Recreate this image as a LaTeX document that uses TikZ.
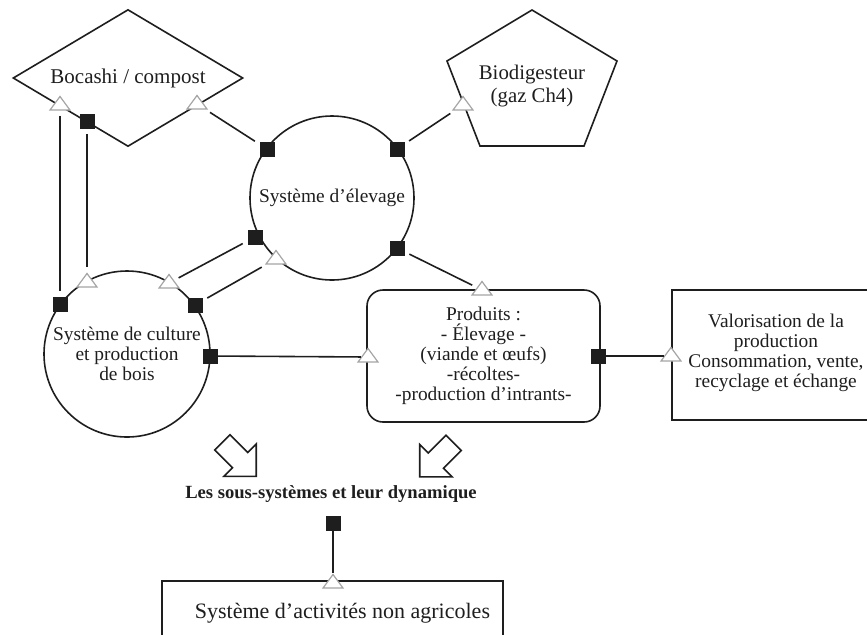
\documentclass[tikz,border=0pt]{standalone}
\usepackage{fontspec}
\setmainfont{Liberation Serif}
\usetikzlibrary{positioning,shapes.geometric,shapes.arrows}
\definecolor{ink}{RGB}{30,30,30}
\definecolor{trigray}{RGB}{165,165,165}
\tikzset{
  sq/.style={rectangle,fill=ink,minimum size=7.5pt,inner sep=0pt},
  tri/.style={isosceles triangle,isosceles triangle stretches,shape border rotate=90,draw=trigray,fill=white,line width=0.6pt,minimum width=10pt,minimum height=6.8pt,inner sep=0pt},
  lnk/.style={line width=0.8pt,draw=ink},
  gap/.style={shorten <=2.5pt,shorten >=2.5pt},
  sub/.style={circle,draw=ink,line width=0.8pt,inner sep=0pt},
  txt/.style={font=\fontsize{9.7}{10}\selectfont,align=center,text=ink},
  hol/.style={single arrow,draw=ink,line width=0.8pt,fill=white,minimum height=24pt,inner sep=5pt,single arrow head extend=6pt}
}
\begin{document}
\begin{tikzpicture}[x=0.5pt,y=-0.5pt]
  \useasboundingbox (0,0) rectangle (867,634);
  % sous-systemes
  \node[diamond,aspect=1.68,draw=ink,line width=0.8pt,minimum width=115pt,minimum height=68.5pt,inner sep=0pt,txt,font=\fontsize{10.5}{11}\selectfont] (boc) at (128,78) {Bocashi / compost};
  \node[sub,txt,minimum size=82pt] (elev) at (332,198) {Système d'élevage};
  \node[sub,txt,minimum size=83pt] (cult) at (127,354) {Système de culture\\et production\\de bois};
  \draw[lnk] (532,10) -- (617,61) -- (584,146) -- (480,146) -- (447,61) -- cycle;
  \node[txt,font=\fontsize{10.4}{11.5}\selectfont] (biod) at (532,86) {Biodigesteur\\(gaz Ch4)};
  \node[draw=ink,line width=0.8pt,rounded corners=8pt,minimum width=116.5pt,minimum height=66pt,txt] (prod) at (483.5,356) {Produits :\\- Élevage -\\(viande et œufs)\\-récoltes-\\-production d'intrants-};
  % boite coupee par le bord droit
  \draw[line width=0.9pt,draw=ink] (870,290) -- (672,290) -- (672,420) -- (870,420);
  \node[txt] (valo) at (776,353) {Valorisation de la\\production\\Consommation, vente,\\recyclage et échange};
  \node[font=\bfseries\fontsize{9.3}{10}\selectfont,text=ink] (dyn) at (331,494) {Les sous-systèmes et leur dynamique};
  \node[draw=ink,line width=0.8pt,minimum width=170.5pt,minimum height=32pt,text=ink,font=\fontsize{11}{12}\selectfont] (nonag) at (332.5,613) {\hspace*{10pt}Système d'activités non agricoles};
  % fleches creuses
  \node[hol,rotate=-45] (arrL) at (235.5,455.5) {};
  \node[hol,rotate=-135] (arrR) at (440.5,456) {};
  % points de connexion
  \node[tri] (t1) at (60,105) {};
  \node[sq] (s1) at (87,121) {};
  \node[tri] (t2) at (197,104) {};
  \node[sq] (s2) at (267,149) {};
  \node[sq] (s3) at (397,149) {};
  \node[tri] (t9) at (463,105) {};
  \node[sq] (s5) at (255,237) {};
  \node[tri] (t3) at (276,259) {};
  \node[sq] (s4) at (397,248) {};
  \node[tri] (t6) at (482,290) {};
  \node[sq] (s6) at (60,304) {};
  \node[tri] (t4) at (87,282) {};
  \node[tri] (t5) at (169,283) {};
  \node[sq] (s7) at (195,305) {};
  \node[sq] (s8) at (210,356) {};
  \node[tri] (t7) at (368,357) {};
  \node[sq] (s9) at (598,356) {};
  \node[tri] (t8) at (671,356) {};
  \node[sq] (s10) at (333,523) {};
  \node[tri] (t10) at (333,583) {};
  % liaisons
  \draw[lnk,gap] (t2) -- (s2);
  \draw[lnk,gap] (t1) -- (s6);
  \draw[lnk,gap] (s1) -- (t4);
  \draw[lnk,gap] (s3) -- (t9);
  \draw[lnk,gap] (s4) -- (t6);
  \draw[lnk,gap] (s5) -- (t5);
  \draw[lnk,gap] (s7) -- (t3);
  \draw[lnk] (s8) -- (t7);
  \draw[lnk] (s9) -- (t8);
  \draw[lnk] (s10) -- (t10);
\end{tikzpicture}
\end{document}
